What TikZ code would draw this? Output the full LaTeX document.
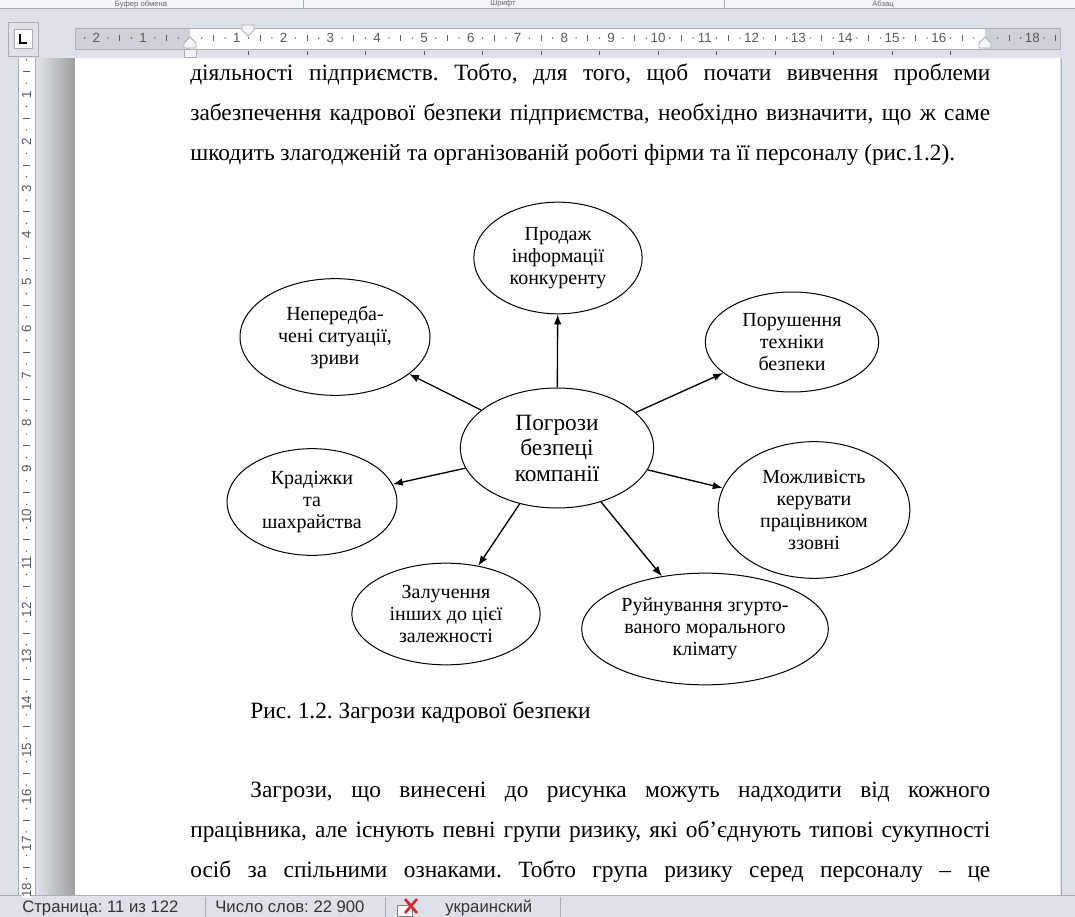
\documentclass[tikz,border=0pt]{standalone}
\usepackage{fontspec}
\setmainfont{Liberation Serif}
\newfontfamily\uifont{Liberation Sans}
\usetikzlibrary{arrows.meta,shapes.geometric}
\frenchspacing
\definecolor{uibar}{HTML}{DDE2E8}
\definecolor{uitop}{HTML}{F3F5F8}
\definecolor{uiline}{HTML}{A7AEB7}
\definecolor{rulergray}{HTML}{CDD2D8}
\definecolor{numgray}{HTML}{5A5A5A}
\definecolor{xred}{HTML}{D8262B}

\tikzset{
  bubble/.style={draw, ellipse, line width=0.6pt, inner sep=0pt, align=center, font=\fontsize{12}{13.2}\selectfont},
  textline/.style={inner sep=0pt, anchor=base west, font=\fontsize{14}{16}\selectfont},
  rulernum/.style={inner sep=0pt, font=\uifont\fontsize{8}{8}\selectfont, text=numgray},
  statustext/.style={inner sep=0pt, anchor=base west, font=\uifont\fontsize{10}{12}\selectfont, text=black!80},
  grouplabel/.style={inner sep=0pt, font=\uifont\fontsize{4.6}{5}\selectfont, text=black!60},
  threat/.style={-{Latex[length=6pt,width=4.5pt]}, line width=0.8pt},
  marker/.style={draw=uiline, fill=uitop, line width=0.5pt},
}

\begin{document}
\begin{tikzpicture}[x=0.6pt, y=-0.6pt]
\useasboundingbox (0,0) rectangle (1075,917);

% window frame
\fill[uitop] (0,0) rectangle (1075,8);
\fill[uibar] (0,8) rectangle (1075,58);
\draw[uiline] (0,8) -- (1075,8);
\fill[uibar] (0,58) rectangle (75,895);
\shade[left color=uibar, right color=black!38] (37,58) rectangle (75,895);
\fill[white] (75,58) rectangle (1060,895);
\fill[uibar] (1060,58) rectangle (1075,895);
\draw[uiline] (1061,58) -- (1061,895);
\fill[uibar] (0,895) rectangle (1075,917);
\draw[uiline] (0,895) -- (1075,895);

% ribbon group labels
\node[grouplabel] (g1) at (141,4) {Буфер обмена};
\node[grouplabel] (g2) at (503,4) {Шрифт};
\node[grouplabel] (g3) at (883,4) {Абзац};
\draw[uiline] (303,0) -- (303,8) (724,0) -- (724,8);

% horizontal ruler
\draw[uiline, fill=uibar] (8,22) rectangle (38,56);
\draw[uiline, fill=white] (14,29) rectangle (32,48);
\draw[line width=1.4pt] (20,34) -- (20,43) -- (27,43);
\fill[rulergray] (75,28) rectangle (1060,49);
\fill[white] (190,28) rectangle (985,49);
\draw[uiline] (75,28) rectangle (1060,49);
\foreach \c in {-1.5,-0.5,...,18.5}
  \draw[numgray, line width=0.5pt] (190+\c*46.8,35) -- (190+\c*46.8,41);
\foreach \c in {-2.25,-1.75,...,18.25}
  \fill[numgray] (190+\c*46.8,38) circle (0.8);
\node[rulernum, fill=rulergray] (hl2) at (190-2*46.8,38) {2};
\node[rulernum, fill=rulergray] (hl1) at (190-46.8,38) {1};
\foreach \n in {1,...,16}
  \node[rulernum, fill=white] (hr\n) at (190+\n*46.8,38) {\n};
\node[rulernum, fill=rulergray] (hr18) at (190+18*46.8,38) {18};
\foreach \k in {1,...,13}
  \draw[numgray, line width=0.5pt] (190+\k*58.5,51) -- (190+\k*58.5,55);
\draw[marker] (242,25) -- (254,25) -- (254,30) -- (248,36) -- (242,30) -- cycle;
\draw[marker] (184,48) -- (184,43) -- (190,37) -- (196,43) -- (196,48) -- cycle;
\draw[marker] (184,49) rectangle (196,57);
\draw[marker] (979,48) -- (979,43) -- (985,37) -- (991,43) -- (991,48) -- cycle;

% vertical ruler
\fill[white] (18,58) rectangle (35,895);
\draw[uiline] (18,58) -- (18,895) (35,58) -- (35,895);
\foreach \c in {0.5,1.5,...,17.5}
  \draw[numgray, line width=0.5pt] (23,48+\c*46.8) -- (30,48+\c*46.8);
\foreach \c in {0.25,0.75,...,17.75}
  \fill[numgray] (26.5,48+\c*46.8) circle (0.8);
\foreach \n in {1,...,18}
  \node[rulernum, fill=white, rotate=90] (vr\n) at (26.5,48+\n*46.8) {\n};

% status bar
\node[statustext] (s1) at (22,912) {Страница: 11 из 122};
\node[statustext] (s2) at (215,912) {Число слов: 22 900};
\node[statustext] (s3) at (445,912) {украинский};
\draw[black!50, fill=white] (397,905) rectangle (412,916);
\draw[xred, line width=1.6pt] (405,899) -- (417,913) (417,899) -- (405,913);
\draw[uiline] (205,897) -- (205,917) (385,897) -- (385,917) (560,897) -- (560,917);

% page text
\node[textline] (p1) at (190,80) {\makebox[480pt][s]{діяльності підприємств. Тобто, для того, щоб почати вивчення проблеми}};
\node[textline] (p2) at (190,120) {\makebox[480pt][s]{забезпечення кадрової безпеки підприємства, необхідно визначити, що ж саме}};
\node[textline] (p3) at (190,160) {шкодить злагодженій та організованій роботі фірми та її персоналу (рис.1.2).};

% diagram
\node[bubble, font=\fontsize{14}{15.3}\selectfont, minimum width=116pt, minimum height=72pt] (ctr) at (557,448) {Погрози\\безпеці\\компанії};
\node[bubble, minimum width=101pt, minimum height=67pt] (sale) at (558,258) {Продаж\\інформації\\конкуренту};
\node[bubble, minimum width=114pt, minimum height=70pt] (unf) at (335,337) {Непередба-\\чені ситуації,\\зриви};
\node[bubble, minimum width=104pt, minimum height=60pt] (safe) at (792,342) {Порушення\\техніки\\безпеки};
\node[bubble, minimum width=102pt, minimum height=64pt] (theft) at (312,502) {Крадіжки\\та\\шахрайства};
\node[bubble, minimum width=115pt, minimum height=82pt] (ctrl) at (814,510) {Можливість\\керувати\\працівником\\ззовні};
\node[bubble, minimum width=113pt, minimum height=61pt] (inv) at (446,614) {Залучення\\інших до цієї\\залежності};
\node[bubble, inner sep=-6pt, minimum width=148pt, minimum height=67pt] (clim) at (705,629) {Руйнування згурто-\\ваного моральногo\\клімату};
\foreach \t in {sale,unf,safe,theft,ctrl,inv,clim}
  \draw[threat] (ctr) -- (\t);

\node[textline] (cap) at (250,718) {Рис. 1.2. Загрози кадрової безпеки};

\node[textline] (q1) at (250,797) {\makebox[444pt][s]{Загрози, що винесені до рисунка можуть надходити від кожного}};
\node[textline] (q2) at (190,837) {\makebox[480pt][s]{працівника, але існують певні групи ризику, які об’єднують типові сукупності}};
\node[textline] (q3) at (190,877) {\makebox[480pt][s]{осіб за спільними ознаками. Тобто група ризику серед персоналу – це}};
\end{tikzpicture}
\end{document}
